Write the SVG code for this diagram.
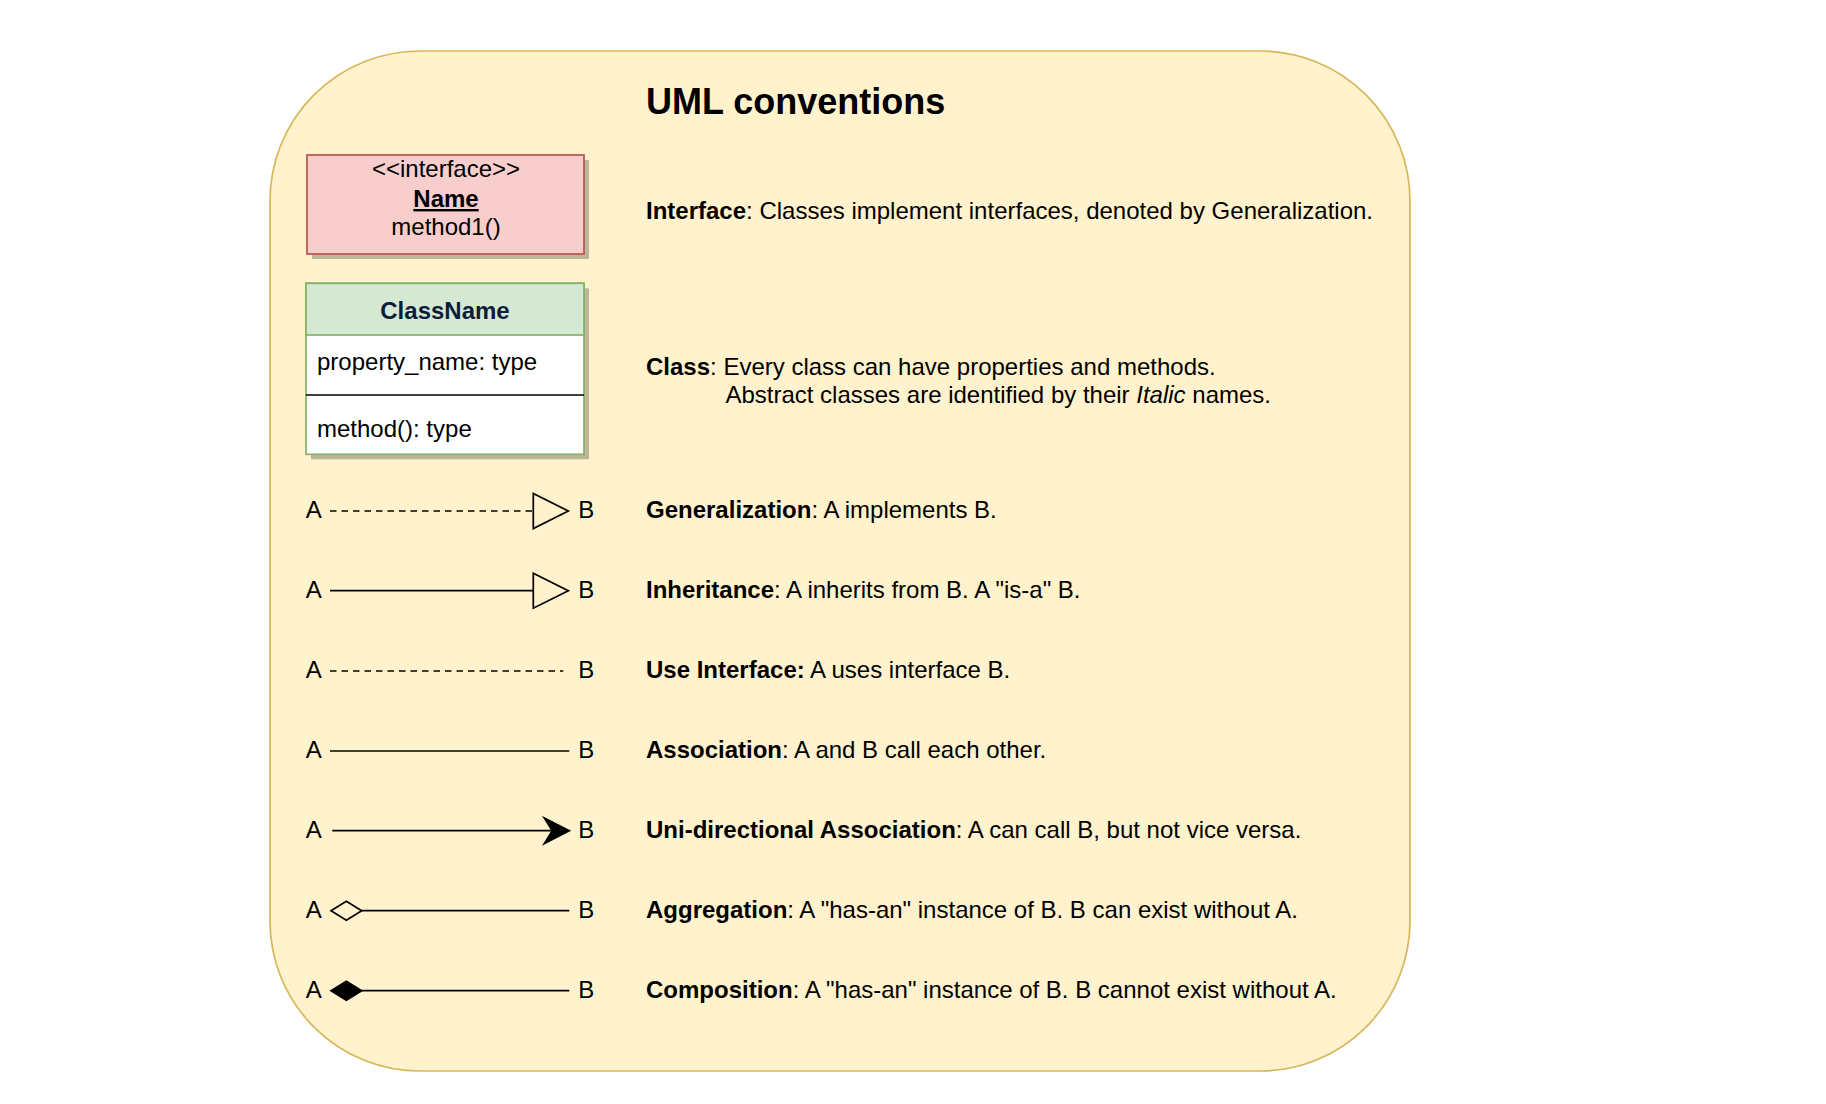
<svg xmlns="http://www.w3.org/2000/svg" width="1826" height="1104" viewBox="0 0 1826 1104">
  <style>
    text { font-family: "Liberation Sans", Arial, Helvetica, sans-serif; font-size: 24px; fill: #000; }
    .b { font-weight: bold; }
    .title { font-size: 36px; font-weight: bold; }
    .mid { text-anchor: middle; }
    .shadow { fill: #000; opacity: 0.25; }
    .ln { fill: none; stroke: #000; stroke-width: 1.7; }
    .dash { stroke-dasharray: 6.5 5; }
  </style>
  <defs>
    <marker id="tri" markerUnits="userSpaceOnUse" markerWidth="40" markerHeight="40" refX="0" refY="17.5" orient="auto" overflow="visible">
      <path d="M0,0 L35,17.5 L0,35 Z" fill="#fff2cc" stroke="#000" stroke-width="1.7"/>
    </marker>
    <marker id="arrow" markerUnits="userSpaceOnUse" markerWidth="30" markerHeight="30" refX="25" refY="12.8" orient="auto" overflow="visible">
      <path d="M0,0 L25,12.8 L0,25.6 L8,12.8 Z" fill="#000" stroke="#000" stroke-width="1.7" stroke-linejoin="miter"/>
    </marker>
    <marker id="odia" markerUnits="userSpaceOnUse" markerWidth="34" markerHeight="22" refX="30.7" refY="9.5" orient="auto" overflow="visible">
      <path d="M0,9.5 L15.35,0 L30.7,9.5 L15.35,19 Z" fill="#fff2cc" stroke="#000" stroke-width="1.7"/>
    </marker>
    <marker id="fdia" markerUnits="userSpaceOnUse" markerWidth="34" markerHeight="22" refX="30.7" refY="9.5" orient="auto" overflow="visible">
      <path d="M0,9.5 L15.35,0 L30.7,9.5 L15.35,19 Z" fill="#000" stroke="#000" stroke-width="1.7"/>
    </marker>
  </defs>

  <g id="container">
    <rect x="270" y="51" width="1140" height="1020" rx="150" ry="150" fill="#fff2cc" stroke="#d6b656" stroke-width="1.7"/>
  </g>

  <g id="title">
    <text class="title" x="646" y="114">UML conventions</text>
  </g>

  <g id="interface-node">
    <rect class="shadow" x="312" y="160" width="277" height="99"/>
    <rect x="307" y="155" width="277" height="99" fill="#f8cecc" stroke="#b85450" stroke-width="1.7"/>
    <text class="mid" x="446" y="177">&lt;&lt;interface&gt;&gt;</text>
    <text class="mid b" x="446" y="207" text-decoration="underline">Name</text>
    <text class="mid" x="446" y="235">method1()</text>
  </g>

  <g id="class-node">
    <rect class="shadow" x="311" y="288.3" width="278" height="171"/>
    <rect x="306" y="283.3" width="278" height="171" fill="#ffffff" stroke="#82b366" stroke-width="1.7"/>
    <rect x="306" y="283.3" width="278" height="51.7" fill="#d5e8d4" stroke="#82b366" stroke-width="1.7"/>
    <line x1="306" y1="395" x2="584" y2="395" stroke="#000" stroke-width="1.7"/>
    <text class="mid b" x="445" y="319" style="fill:#0b1d3a">ClassName</text>
    <text x="317" y="370">property_name: type</text>
    <text x="317" y="437">method(): type</text>
  </g>

  <g id="connectors">
    <path class="ln dash" d="M330,511 L533.3,511" marker-end="url(#tri)"/>
    <path class="ln" d="M330,590.7 L533.3,590.7" marker-end="url(#tri)"/>
    <path class="ln dash" d="M330,671 L563.3,671"/>
    <path class="ln" d="M330,751 L569.3,751"/>
    <path class="ln" d="M332.3,830.7 L569.3,830.7" marker-end="url(#arrow)"/>
    <path class="ln" d="M361.7,910.7 L569.3,910.7" marker-start="url(#odia)"/>
    <path class="ln" d="M361.7,990.7 L569.3,990.7" marker-start="url(#fdia)"/>
  </g>

  <g id="endpoint-labels">
    <text x="305.7" y="518">A</text><text x="578.3" y="518">B</text>
    <text x="305.7" y="597.7">A</text><text x="578.3" y="597.7">B</text>
    <text x="305.7" y="678">A</text><text x="578.3" y="678">B</text>
    <text x="305.7" y="758">A</text><text x="578.3" y="758">B</text>
    <text x="305.7" y="837.7">A</text><text x="578.3" y="837.7">B</text>
    <text x="305.7" y="917.7">A</text><text x="578.3" y="917.7">B</text>
    <text x="305.7" y="997.7">A</text><text x="578.3" y="997.7">B</text>
  </g>

  <g id="descriptions">
    <text x="646" y="219.3"><tspan class="b">Interface</tspan>: Classes implement interfaces, denoted by Generalization.</text>
    <text x="646" y="375"><tspan class="b">Class</tspan>: Every class can have properties and methods.</text>
    <text x="725.4" y="403.3">Abstract classes are identified by their <tspan font-style="italic">Italic</tspan> names.</text>
    <text x="646" y="518"><tspan class="b">Generalization</tspan>: A implements B.</text>
    <text x="646" y="597.7"><tspan class="b">Inheritance</tspan>: A inherits from B. A "is-a" B.</text>
    <text x="646" y="678"><tspan class="b">Use Interface:</tspan> A uses interface B.</text>
    <text x="646" y="758"><tspan class="b">Association</tspan>: A and B call each other.</text>
    <text x="646" y="837.7"><tspan class="b">Uni-directional Association</tspan>: A can call B, but not vice versa.</text>
    <text x="646" y="917.7"><tspan class="b">Aggregation</tspan>: A "has-an" instance of B. B can exist without A.</text>
    <text x="646" y="997.7"><tspan class="b">Composition</tspan>: A "has-an" instance of B. B cannot exist without A.</text>
  </g>
</svg>
